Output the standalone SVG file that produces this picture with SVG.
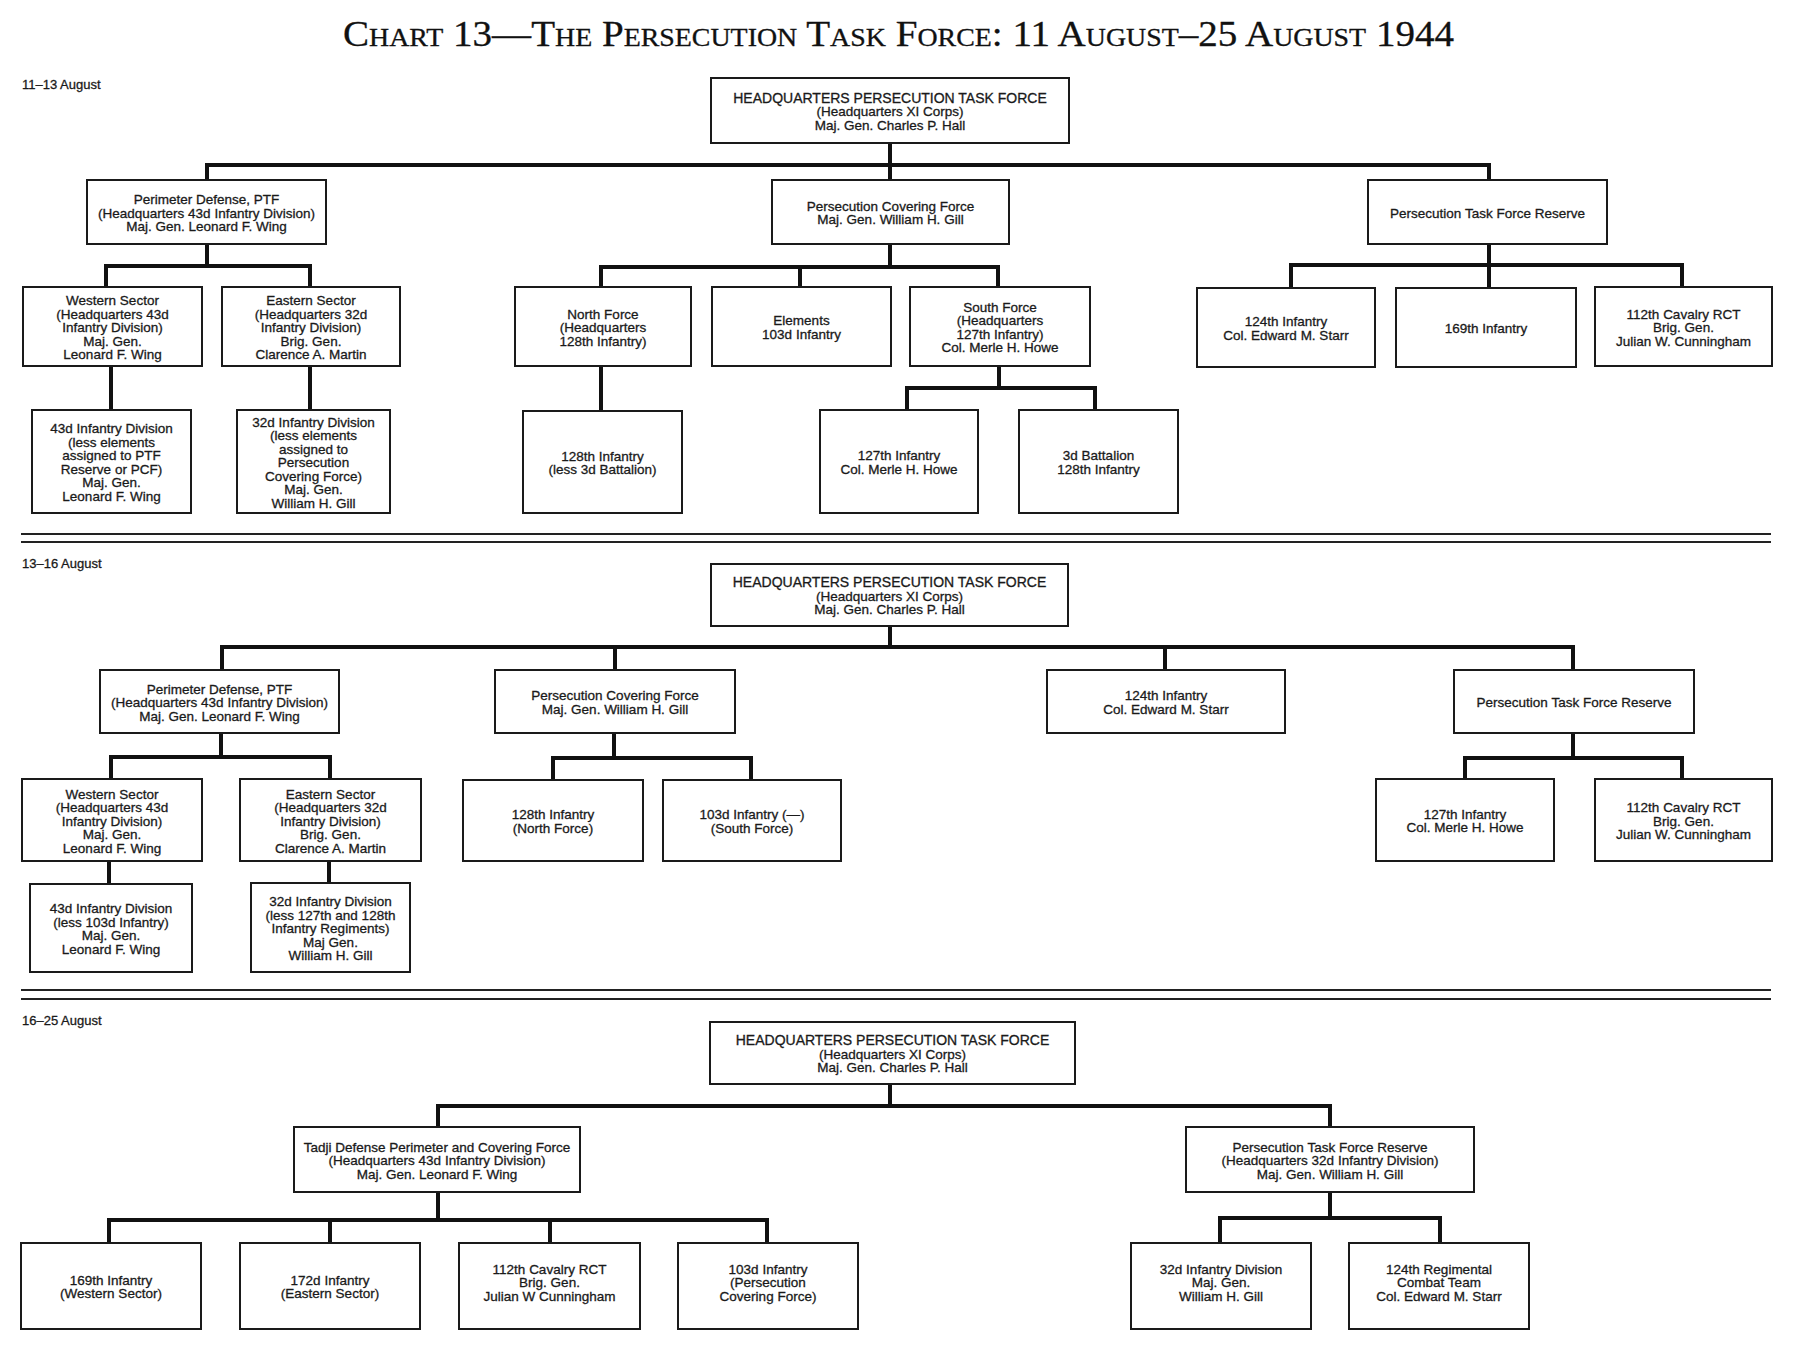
<svg xmlns="http://www.w3.org/2000/svg" width="1800" height="1357" viewBox="0 0 1800 1357">
<style>
.b{fill:#fff;stroke:#1a1a1a;stroke-width:2}
.t{font-family:"Liberation Sans",Arial,sans-serif;font-size:13.5px;fill:#1a1a1a;stroke:#1a1a1a;stroke-width:0.3;text-anchor:middle}
.h{font-size:14px}
.lab{font-family:"Liberation Sans",Arial,sans-serif;font-size:13px;fill:#1a1a1a;stroke:#1a1a1a;stroke-width:0.3}
.c{stroke:#111;stroke-width:4;fill:none;stroke-linecap:square;stroke-linejoin:miter}
.sep{stroke:#222;stroke-width:2;fill:none}
.title{font-family:"Liberation Serif","Times New Roman",serif;font-size:35px;font-variant:small-caps;fill:#111;stroke:#111;stroke-width:0.3}
</style>
<rect width="1800" height="1357" fill="#fff"/>
<text class="title" x="343" y="46" textLength="1111" lengthAdjust="spacingAndGlyphs">Chart 13—The Persecution Task Force: 11 August–25 August 1944</text>
<g id="labels">
<text class="lab" x="22" y="89">11–13 August</text>
<text class="lab" x="22" y="568">13–16 August</text>
<text class="lab" x="22" y="1025">16–25 August</text>
</g>
<g id="separators">
<path class="sep" d="M21,534 H1771 M21,542 H1771 M21,990 H1771 M21,999 H1771"/>
</g>
<g id="connectors">
<!-- section 1 -->
<path class="c" d="M890,143 V165 M207,180 V165 H1489 V180 M890,165 V180"/>
<path class="c" d="M207,244 V266 M106,287 V266 H310 V287"/>
<path class="c" d="M111,366 V410 M310,366 V410"/>
<path class="c" d="M890,244 V267 M601,287 V267 H998 V287 M800,267 V287"/>
<path class="c" d="M601,366 V411"/>
<path class="c" d="M999,366 V388 M907,410 V388 H1095 V410"/>
<path class="c" d="M1489,244 V265 M1291,288 V265 H1682 V287 M1489,265 V288"/>
<!-- section 2 -->
<path class="c" d="M890,626 V647 M222,670 V647 H1573 V670 M615,647 V670 M1165,647 V670"/>
<path class="c" d="M221,733 V757 M111,779 V757 H330 V779"/>
<path class="c" d="M109,861 V884 M329,861 V883"/>
<path class="c" d="M614,733 V758 M553,780 V758 H751 V780"/>
<path class="c" d="M1573,733 V758 M1465,779 V758 H1682 V779"/>
<!-- section 3 -->
<path class="c" d="M890,1084 V1106 M438,1127 V1106 H1330 V1127"/>
<path class="c" d="M438,1192 V1220 M109,1243 V1220 H767 V1243 M330,1220 V1243 M550,1220 V1243"/>
<path class="c" d="M1330,1192 V1218 M1220,1243 V1218 H1440 V1243"/>
</g>

<!-- ===== Section 1 ===== -->
<g id="hq1"><rect class="b" x="711" y="78" width="358" height="65"/>
<text class="t h" x="890" y="102.5">HEADQUARTERS PERSECUTION TASK FORCE</text>
<text class="t" x="890" y="116">(Headquarters XI Corps)</text>
<text class="t" x="890" y="129.5">Maj. Gen. Charles P. Hall</text></g>

<g id="pd1"><rect class="b" x="87" y="180" width="239" height="64"/>
<text class="t" x="206.5" y="204">Perimeter Defense, PTF</text>
<text class="t" x="206.5" y="217.5">(Headquarters 43d Infantry Division)</text>
<text class="t" x="206.5" y="231">Maj. Gen. Leonard F. Wing</text></g>

<g id="cf1"><rect class="b" x="772" y="180" width="237" height="64"/>
<text class="t" x="890.5" y="210.75">Persecution Covering Force</text>
<text class="t" x="890.5" y="224.25">Maj. Gen. William H. Gill</text></g>

<g id="res1"><rect class="b" x="1368" y="180" width="239" height="64"/>
<text class="t" x="1487.5" y="217.5">Persecution Task Force Reserve</text></g>

<g id="ws1"><rect class="b" x="23" y="287" width="179" height="79"/>
<text class="t" x="112.5" y="305">Western Sector</text>
<text class="t" x="112.5" y="318.5">(Headquarters 43d</text>
<text class="t" x="112.5" y="332">Infantry Division)</text>
<text class="t" x="112.5" y="345.5">Maj. Gen.</text>
<text class="t" x="112.5" y="359">Leonard F. Wing</text></g>

<g id="es1"><rect class="b" x="222" y="287" width="178" height="79"/>
<text class="t" x="311" y="305">Eastern Sector</text>
<text class="t" x="311" y="318.5">(Headquarters 32d</text>
<text class="t" x="311" y="332">Infantry Division)</text>
<text class="t" x="311" y="345.5">Brig. Gen.</text>
<text class="t" x="311" y="359">Clarence A. Martin</text></g>

<g id="div43_1"><rect class="b" x="32" y="410" width="159" height="103"/>
<text class="t" x="111.5" y="433.25">43d Infantry Division</text>
<text class="t" x="111.5" y="446.75">(less elements</text>
<text class="t" x="111.5" y="460.25">assigned to PTF</text>
<text class="t" x="111.5" y="473.75">Reserve or PCF)</text>
<text class="t" x="111.5" y="487.25">Maj. Gen.</text>
<text class="t" x="111.5" y="500.75">Leonard F. Wing</text></g>

<g id="div32_1"><rect class="b" x="237" y="410" width="153" height="103"/>
<text class="t" x="313.5" y="426.5">32d Infantry Division</text>
<text class="t" x="313.5" y="440">(less elements</text>
<text class="t" x="313.5" y="453.5">assigned to</text>
<text class="t" x="313.5" y="467">Persecution</text>
<text class="t" x="313.5" y="480.5">Covering Force)</text>
<text class="t" x="313.5" y="494">Maj. Gen.</text>
<text class="t" x="313.5" y="507.5">William H. Gill</text></g>

<g id="nf1"><rect class="b" x="515" y="287" width="176" height="79"/>
<text class="t" x="603" y="318.5">North Force</text>
<text class="t" x="603" y="332">(Headquarters</text>
<text class="t" x="603" y="345.5">128th Infantry)</text></g>

<g id="el1"><rect class="b" x="712" y="287" width="179" height="79"/>
<text class="t" x="801.5" y="325.25">Elements</text>
<text class="t" x="801.5" y="338.75">103d Infantry</text></g>

<g id="sf1"><rect class="b" x="910" y="287" width="180" height="79"/>
<text class="t" x="1000" y="311.75">South Force</text>
<text class="t" x="1000" y="325.25">(Headquarters</text>
<text class="t" x="1000" y="338.75">127th Infantry)</text>
<text class="t" x="1000" y="352.25">Col. Merle H. Howe</text></g>

<g id="inf128_1"><rect class="b" x="523" y="411" width="159" height="102"/>
<text class="t" x="602.5" y="460.75">128th Infantry</text>
<text class="t" x="602.5" y="474.25">(less 3d Battalion)</text></g>

<g id="inf127_1"><rect class="b" x="820" y="410" width="158" height="103"/>
<text class="t" x="899" y="460.25">127th Infantry</text>
<text class="t" x="899" y="473.75">Col. Merle H. Howe</text></g>

<g id="bn3_1"><rect class="b" x="1019" y="410" width="159" height="103"/>
<text class="t" x="1098.5" y="460.25">3d Battalion</text>
<text class="t" x="1098.5" y="473.75">128th Infantry</text></g>

<g id="inf124_1"><rect class="b" x="1197" y="288" width="178" height="79"/>
<text class="t" x="1286" y="326.25">124th Infantry</text>
<text class="t" x="1286" y="339.75">Col. Edward M. Starr</text></g>

<g id="inf169_1"><rect class="b" x="1396" y="288" width="180" height="79"/>
<text class="t" x="1486" y="333">169th Infantry</text></g>

<g id="cav112_1"><rect class="b" x="1595" y="287" width="177" height="79"/>
<text class="t" x="1683.5" y="318.5">112th Cavalry RCT</text>
<text class="t" x="1683.5" y="332">Brig. Gen.</text>
<text class="t" x="1683.5" y="345.5">Julian W. Cunningham</text></g>

<!-- ===== Section 2 ===== -->
<g id="hq2"><rect class="b" x="711" y="564" width="357" height="62"/>
<text class="t h" x="889.5" y="587">HEADQUARTERS PERSECUTION TASK FORCE</text>
<text class="t" x="889.5" y="600.5">(Headquarters XI Corps)</text>
<text class="t" x="889.5" y="614">Maj. Gen. Charles P. Hall</text></g>

<g id="pd2"><rect class="b" x="100" y="670" width="239" height="63"/>
<text class="t" x="219.5" y="693.5">Perimeter Defense, PTF</text>
<text class="t" x="219.5" y="707">(Headquarters 43d Infantry Division)</text>
<text class="t" x="219.5" y="720.5">Maj. Gen. Leonard F. Wing</text></g>

<g id="cf2"><rect class="b" x="495" y="670" width="240" height="63"/>
<text class="t" x="615" y="700.25">Persecution Covering Force</text>
<text class="t" x="615" y="713.75">Maj. Gen. William H. Gill</text></g>

<g id="inf124_2"><rect class="b" x="1047" y="670" width="238" height="63"/>
<text class="t" x="1166" y="700.25">124th Infantry</text>
<text class="t" x="1166" y="713.75">Col. Edward M. Starr</text></g>

<g id="res2"><rect class="b" x="1454" y="670" width="240" height="63"/>
<text class="t" x="1574" y="707">Persecution Task Force Reserve</text></g>

<g id="ws2"><rect class="b" x="22" y="779" width="180" height="82"/>
<text class="t" x="112" y="798.5">Western Sector</text>
<text class="t" x="112" y="812">(Headquarters 43d</text>
<text class="t" x="112" y="825.5">Infantry Division)</text>
<text class="t" x="112" y="839">Maj. Gen.</text>
<text class="t" x="112" y="852.5">Leonard F. Wing</text></g>

<g id="es2"><rect class="b" x="240" y="779" width="181" height="82"/>
<text class="t" x="330.5" y="798.5">Eastern Sector</text>
<text class="t" x="330.5" y="812">(Headquarters 32d</text>
<text class="t" x="330.5" y="825.5">Infantry Division)</text>
<text class="t" x="330.5" y="839">Brig. Gen.</text>
<text class="t" x="330.5" y="852.5">Clarence A. Martin</text></g>

<g id="div43_2"><rect class="b" x="30" y="884" width="162" height="88"/>
<text class="t" x="111" y="913.25">43d Infantry Division</text>
<text class="t" x="111" y="926.75">(less 103d Infantry)</text>
<text class="t" x="111" y="940.25">Maj. Gen.</text>
<text class="t" x="111" y="953.75">Leonard F. Wing</text></g>

<g id="div32_2"><rect class="b" x="251" y="883" width="159" height="89"/>
<text class="t" x="330.5" y="906">32d Infantry Division</text>
<text class="t" x="330.5" y="919.5">(less 127th and 128th</text>
<text class="t" x="330.5" y="933">Infantry Regiments)</text>
<text class="t" x="330.5" y="946.5">Maj Gen.</text>
<text class="t" x="330.5" y="960">William H. Gill</text></g>

<g id="inf128_2"><rect class="b" x="463" y="780" width="180" height="81"/>
<text class="t" x="553" y="819.25">128th Infantry</text>
<text class="t" x="553" y="832.75">(North Force)</text></g>

<g id="inf103_2"><rect class="b" x="663" y="780" width="178" height="81"/>
<text class="t" x="752" y="819.25">103d Infantry (—)</text>
<text class="t" x="752" y="832.75">(South Force)</text></g>

<g id="inf127_2"><rect class="b" x="1376" y="779" width="178" height="82"/>
<text class="t" x="1465" y="818.75">127th Infantry</text>
<text class="t" x="1465" y="832.25">Col. Merle H. Howe</text></g>

<g id="cav112_2"><rect class="b" x="1595" y="779" width="177" height="82"/>
<text class="t" x="1683.5" y="812">112th Cavalry RCT</text>
<text class="t" x="1683.5" y="825.5">Brig. Gen.</text>
<text class="t" x="1683.5" y="839">Julian W. Cunningham</text></g>

<!-- ===== Section 3 ===== -->
<g id="hq3"><rect class="b" x="710" y="1022" width="365" height="62"/>
<text class="t h" x="892.5" y="1045">HEADQUARTERS PERSECUTION TASK FORCE</text>
<text class="t" x="892.5" y="1058.5">(Headquarters XI Corps)</text>
<text class="t" x="892.5" y="1072">Maj. Gen. Charles P. Hall</text></g>

<g id="tadji"><rect class="b" x="294" y="1127" width="286" height="65"/>
<text class="t" x="437" y="1151.5">Tadji Defense Perimeter and Covering Force</text>
<text class="t" x="437" y="1165">(Headquarters 43d Infantry Division)</text>
<text class="t" x="437" y="1178.5">Maj. Gen. Leonard F. Wing</text></g>

<g id="res3"><rect class="b" x="1186" y="1127" width="288" height="65"/>
<text class="t" x="1330" y="1151.5">Persecution Task Force Reserve</text>
<text class="t" x="1330" y="1165">(Headquarters 32d Infantry Division)</text>
<text class="t" x="1330" y="1178.5">Maj. Gen. William H. Gill</text></g>

<g id="inf169_3"><rect class="b" x="21" y="1243" width="180" height="86"/>
<text class="t" x="111" y="1284.75">169th Infantry</text>
<text class="t" x="111" y="1298.25">(Western Sector)</text></g>

<g id="inf172_3"><rect class="b" x="240" y="1243" width="180" height="86"/>
<text class="t" x="330" y="1284.75">172d Infantry</text>
<text class="t" x="330" y="1298.25">(Eastern Sector)</text></g>

<g id="cav112_3"><rect class="b" x="459" y="1243" width="181" height="86"/>
<text class="t" x="549.5" y="1273.5">112th Cavalry RCT</text>
<text class="t" x="549.5" y="1287">Brig. Gen.</text>
<text class="t" x="549.5" y="1300.5">Julian W Cunningham</text></g>

<g id="inf103_3"><rect class="b" x="678" y="1243" width="180" height="86"/>
<text class="t" x="768" y="1273.5">103d Infantry</text>
<text class="t" x="768" y="1287">(Persecution</text>
<text class="t" x="768" y="1300.5">Covering Force)</text></g>

<g id="div32_3"><rect class="b" x="1131" y="1243" width="180" height="86"/>
<text class="t" x="1221" y="1273.5">32d Infantry Division</text>
<text class="t" x="1221" y="1287">Maj. Gen.</text>
<text class="t" x="1221" y="1300.5">William H. Gill</text></g>

<g id="rct124_3"><rect class="b" x="1349" y="1243" width="180" height="86"/>
<text class="t" x="1439" y="1273.5">124th Regimental</text>
<text class="t" x="1439" y="1287">Combat Team</text>
<text class="t" x="1439" y="1300.5">Col. Edward M. Starr</text></g>
</svg>
